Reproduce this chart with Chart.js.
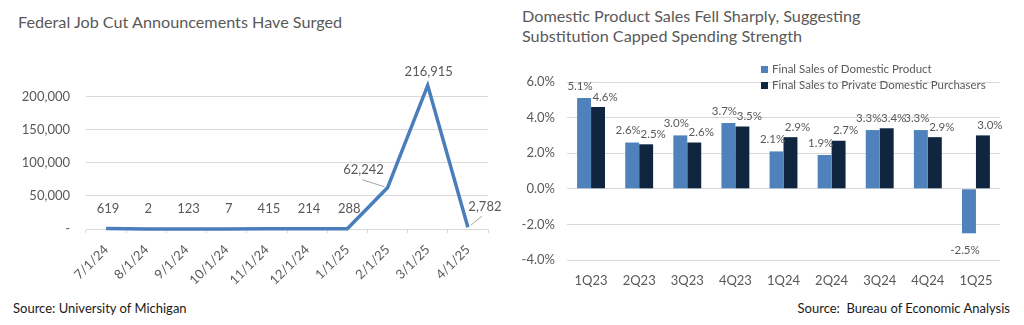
<!DOCTYPE html>
<html><head><meta charset="utf-8">
<script src="https://cdn.jsdelivr.net/npm/chart.js@4.4.1/dist/chart.umd.min.js"></script>
<style>
html,body{margin:0;padding:0;background:#fff;width:1024px;height:325px;overflow:hidden;font-family:Lato,'Open Sans',sans-serif;}
.abs{position:absolute;white-space:nowrap;}
.title{color:#595959;font-size:16.2px;line-height:20px;}
.src{color:#1a1a1a;font-size:13px;}
.leg{color:#595959;font-size:11.5px;line-height:16px;}
.sw{display:inline-block;width:7px;height:7px;margin-right:4px;vertical-align:0px;}
</style></head>
<body>
<div class="abs title" style="left:18px;top:12px;">Federal Job Cut Announcements Have Surged</div>
<div class="abs title" style="left:522px;top:6px;">Domestic Product Sales Fell Sharply, Suggesting<br>Substitution Capped Spending Strength</div>
<canvas id="c1" class="abs" style="left:0;top:0;" width="512" height="300"></canvas>
<canvas id="c2" class="abs" style="left:512px;top:0;" width="512" height="300"></canvas>
<div class="abs leg" style="left:761px;top:61px;"><span class="sw" style="background:#4F81BD"></span>Final Sales of Domestic Product<br><span class="sw" style="background:#10253F"></span>Final Sales to Private Domestic Purchasers</div>
<div class="abs src" style="left:13px;top:300px;">Source: University of Michigan</div>
<div class="abs src" style="right:14px;top:300px;">Source:&nbsp; Bureau of Economic Analysis</div>
<script>
const jobDates = ['7/1/24','8/1/24','9/1/24','10/1/24','11/1/24','12/1/24','1/1/25','2/1/25','3/1/25','4/1/25'];
const jobCuts = [619, 2, 123, 7, 415, 214, 288, 62242, 216915, 2782];
const jobTicks = [0, 50000, 100000, 150000, 200000];

const gdpQuarters = ['1Q23','2Q23','3Q23','4Q23','1Q24','2Q24','3Q24','4Q24','1Q25'];
const finalSalesDomestic = [5.1, 2.6, 3.0, 3.7, 2.1, 1.9, 3.3, 3.3, -2.5];
const finalSalesPrivate = [4.6, 2.5, 2.6, 3.5, 2.9, 2.7, 3.4, 2.9, 3.0];
const gdpTicks = [-4, -2, 0, 2, 4, 6];

Chart.defaults.font.family = 'Lato, "Open Sans", sans-serif';
Chart.defaults.color = '#595959';
Chart.defaults.animation = false;

const lineLabels = {
  id: 'lineLabels',
  afterDatasetsDraw(chart) {
    const ctx = chart.ctx;
    const meta = chart.getDatasetMeta(0);
    const vals = chart.data.datasets[0].data;
    ctx.save();
    ctx.font = '13px Lato, "Open Sans", sans-serif';
    ctx.fillStyle = '#595959';
    ctx.textAlign = 'center';
    ctx.textBaseline = 'middle';
    meta.data.forEach((pt, i) => {
      const txt = vals[i].toLocaleString('en-US');
      let dx = 2, dy = -20;
      if (i === 7) { dx = -24; dy = -18; }
      if (i === 8) { dx = 1; dy = -14; }
      if (i === 9) { dx = 17; dy = -20; }
      ctx.fillText(txt, pt.x + dx, pt.y + dy);
      if (i === 7 || i === 9) {
        ctx.strokeStyle = '#8c8c8c';
        ctx.lineWidth = 0.8;
        ctx.beginPath();
        if (i === 7) { ctx.moveTo(pt.x - 25, pt.y - 8); ctx.lineTo(pt.x - 3, pt.y - 1); }
        else { ctx.moveTo(pt.x + 3, pt.y - 2); ctx.lineTo(pt.x + 14, pt.y - 11); }
        ctx.stroke();
      }
    });
    ctx.restore();
  }
};

new Chart(document.getElementById('c1'), {
  type: 'line',
  data: { labels: jobDates, datasets: [{ data: jobCuts, borderColor: '#4A7EBB', borderWidth: 3.5, pointRadius: 0, tension: 0, clip: false }] },
  options: {
    responsive: false,
    layout: { padding: { left: 0, right: 24, top: 80, bottom: 0 } },
    plugins: { legend: { display: false }, tooltip: { enabled: false } },
    scales: {
      x: {
        offset: true,
        afterFit(s) { s.height = 71; },
        grid: { offset: true, drawOnChartArea: false, drawTicks: true, tickLength: 4, color: '#d9d9d9' },
        border: { color: '#d9d9d9' },
        ticks: { maxRotation: 45, minRotation: 45, padding: 9, font: { size: 13 }, color: '#595959', autoSkip: false }
      },
      y: {
        min: 0, max: 225000,
        afterFit(s) { s.width = 86; },
        afterBuildTicks(s) { s.ticks = jobTicks.map(v => ({ value: v })); },
        grid: { color: '#d9d9d9', drawTicks: false },
        border: { display: false },
        ticks: { padding: 16, font: { size: 13 }, color: '#595959', callback: v => v === 0 ? '-' : v.toLocaleString('en-US') }
      }
    }
  },
  plugins: [lineLabels]
});

const barLabels = {
  id: 'barLabels',
  afterDatasetsDraw(chart) {
    const ctx = chart.ctx;
    ctx.save();
    ctx.font = '11.5px Lato, "Open Sans", sans-serif';
    ctx.fillStyle = '#595959';
    ctx.textAlign = 'center';
    ctx.textBaseline = 'middle';
    chart.data.datasets.forEach((ds, di) => {
      chart.getDatasetMeta(di).data.forEach((bar, i) => {
        const v = ds.data[i];
        const txt = v.toFixed(1) + '%';
        const dx = di === 0 ? -4 : 7;
        const y = v >= 0 ? bar.y - (di === 0 ? 12 : 10) : bar.y + 17;
        ctx.fillText(txt, bar.x + dx, y);
      });
    });
    ctx.restore();
  }
};

new Chart(document.getElementById('c2'), {
  type: 'bar',
  data: {
    labels: gdpQuarters,
    datasets: [
      { label: 'Final Sales of Domestic Product', data: finalSalesDomestic, backgroundColor: '#4F81BD', categoryPercentage: 0.58, barPercentage: 1.0 },
      { label: 'Final Sales to Private Domestic Purchasers', data: finalSalesPrivate, backgroundColor: '#10253F', categoryPercentage: 0.58, barPercentage: 1.0 }
    ]
  },
  options: {
    responsive: false,
    layout: { padding: { left: 0, right: 24, top: 82, bottom: 0 } },
    plugins: { legend: { display: false }, tooltip: { enabled: false } },
    scales: {
      x: {
        afterFit(s) { s.height = 40; },
        grid: { display: false },
        border: { display: false },
        ticks: { padding: 5, font: { size: 13 }, color: '#595959' }
      },
      y: {
        min: -4, max: 6,
        afterFit(s) { s.width = 55; },
        afterBuildTicks(s) { s.ticks = gdpTicks.map(v => ({ value: v })); },
        grid: { color: '#d9d9d9', drawTicks: false },
        border: { display: false },
        ticks: { padding: 12, font: { size: 13 }, color: '#595959', callback: v => v.toFixed(1) + '%' }
      }
    }
  },
  plugins: [barLabels]
});
</script>
</body></html>
